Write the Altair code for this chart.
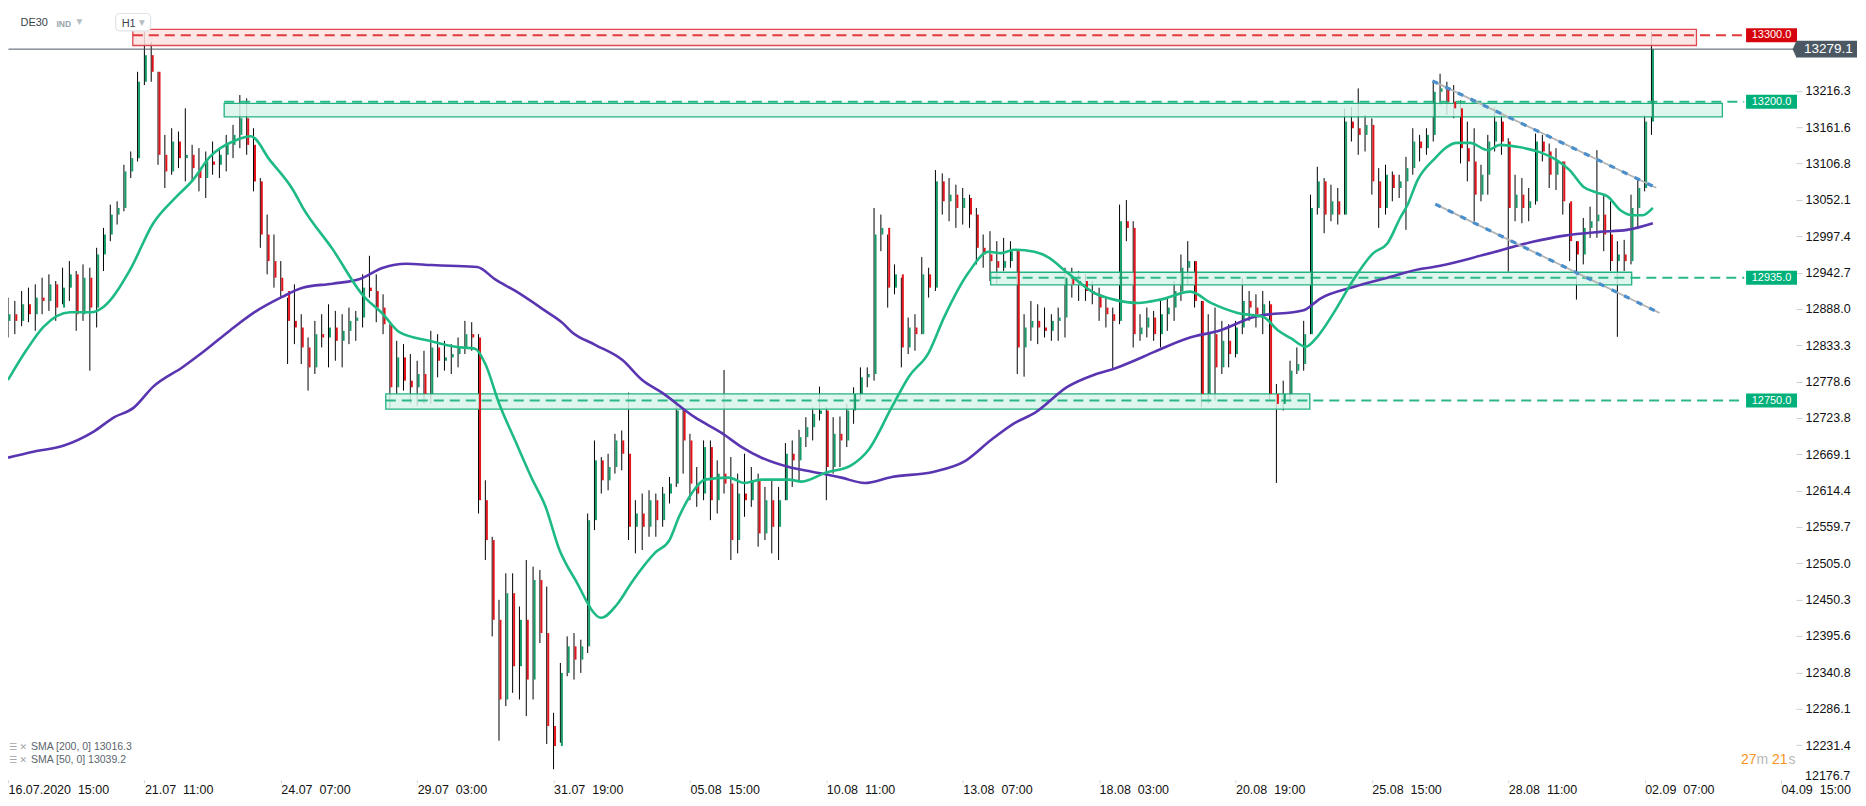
import json
import altair as alt
import pandas as pd

# ---------------- data ----------------
highs = [12905, 12900, 12915, 12920, 12925, 12935, 12940, 12930, 12950, 12960,
         12945, 12955, 12950, 12980, 13010, 13045, 13050, 13105, 13125, 13245,
         13305, 13290, 13245, 13150, 13160, 13155, 13190, 13135, 13130, 13125,
         13140, 13130, 13150, 13165, 13210, 13205, 13160, 13085, 13030, 13000,
         12960, 12905, 12925, 12880, 12845, 12870, 12880, 12895, 12885, 12880,
         12890, 12885, 12940, 12968, 12940, 12910, 12865, 12840, 12835, 12820,
         12810, 12825, 12855, 12850, 12840, 12835, 12845, 12870, 12868, 12850,
         12630, 12545, 12450, 12490, 12490, 12440, 12510, 12500, 12495, 12470,
         12280, 12355, 12395, 12400, 12390, 12580, 12690, 12665, 12670, 12700,
         12705, 12762, 12600, 12610, 12615, 12610, 12620, 12635, 12750, 12740,
         12700, 12650, 12690, 12690, 12660, 12796, 12665, 12640, 12670, 12650,
         12640, 12620, 12630, 12620, 12686, 12690, 12706, 12725, 12740, 12771,
         12740, 12725, 12726, 12745, 12770, 12800, 12800, 13040, 13030, 13000,
         12955, 12935, 12875, 12880, 12966, 12950, 13097, 13092, 13085, 13075,
         13070, 13060, 13040, 13000, 13005, 12990, 12995, 12990, 12978, 12880,
         12900, 12895, 12890, 12880, 12890, 12950, 12950, 12945, 12940, 12930,
         12920, 12905, 12890, 13045, 13052, 13020, 12880, 12890, 12885, 12900,
         12905, 12930, 12970, 12990, 12960, 12900, 12880, 12890, 12870, 12865,
         12870, 12935, 12915, 12910, 12915, 12900, 12775, 12780, 12810, 12830,
         12870, 13060, 13102, 13085, 13075, 13070, 13190, 13192, 13220, 13180,
         13175, 13100, 13105, 13095, 13090, 13117, 13160, 13150, 13160, 13230,
         13242, 13230, 13225, 13202, 13170, 13160, 13105, 13150, 13192, 13180,
         13145, 13090, 13085, 13070, 13152, 13150, 13137, 13130, 13110, 13047,
         12990, 13025, 13042, 13127, 13060, 13050, 12990, 12992, 13060, 13082,
         13180, 13305]
lows = [12845, 12850, 12862, 12868, 12855, 12880, 12885, 12870, 12895, 12900,
        12855, 12870, 12795, 12860, 12945, 12990, 13015, 13035, 13085, 13110,
        13225, 13230, 13105, 13070, 13090, 13100, 13080, 13080, 13065, 13055,
        13090, 13085, 13095, 13115, 13130, 13120, 13065, 12980, 12940, 12920,
        12905, 12805, 12835, 12805, 12765, 12790, 12830, 12800, 12810, 12800,
        12835, 12840, 12860, 12905, 12868, 12850, 12738, 12760, 12765, 12745,
        12742, 12745, 12745, 12785, 12795, 12790, 12800, 12820, 12825, 12580,
        12510, 12395, 12238, 12290, 12310, 12300, 12275, 12300, 12385, 12233,
        12195, 12235, 12335, 12330, 12340, 12370, 12555, 12610, 12615, 12640,
        12645, 12540, 12520, 12525, 12545, 12545, 12560, 12595, 12620, 12640,
        12600, 12590, 12600, 12570, 12580, 12610, 12510, 12520, 12575, 12590,
        12530, 12540, 12520, 12510, 12600, 12620, 12630, 12680, 12690, 12720,
        12600, 12640, 12650, 12680, 12715, 12750, 12770, 12780, 12975, 12890,
        12910, 12800, 12820, 12825, 12850, 12905, 12915, 13030, 13020, 13010,
        13015, 13010, 12955, 12950, 12930, 12925, 12945, 12950, 12790, 12786,
        12840, 12835, 12845, 12840, 12840, 12845, 12905, 12900, 12900, 12895,
        12870, 12860, 12796, 12865, 12990, 12830, 12840, 12845, 12840, 12830,
        12855, 12870, 12900, 12925, 12890, 12740, 12745, 12750, 12790, 12800,
        12815, 12850, 12870, 12860, 12850, 12750, 12626, 12735, 12750, 12790,
        12795, 12850, 13030, 13002, 13020, 13015, 13030, 13140, 13120, 13125,
        13060, 13010, 13030, 13050, 13055, 13007, 13090, 13110, 13120, 13140,
        13195, 13180, 13175, 13107, 13080, 13020, 13050, 13060, 13125, 13120,
        12944, 13020, 13017, 13020, 13045, 13110, 13070, 13067, 13030, 12960,
        12902, 12955, 12995, 12995, 12975, 12945, 12846, 12945, 12955, 13010,
        13065, 13150]
closes = [12880, 12870, 12895, 12880, 12905, 12900, 12925, 12890, 12920, 12940,
          12880, 12935, 12890, 12970, 13000, 13030, 13040, 13095, 13115, 13230,
          13270, 13245, 13120, 13095, 13140, 13115, 13120, 13100, 13085, 13110,
          13105, 13120, 13135, 13150, 13175, 13135, 13080, 13000, 12960, 12935,
          12915, 12870, 12860, 12830, 12800, 12850, 12845, 12860, 12840, 12855,
          12870, 12875, 12920, 12915, 12890, 12865, 12770, 12815, 12780, 12770,
          12790, 12760, 12830, 12810, 12815, 12820, 12830, 12850, 12845, 12600,
          12540, 12420, 12300, 12460, 12350, 12420, 12330, 12480, 12400, 12260,
          12230, 12340, 12380, 12360, 12380, 12570, 12660, 12630, 12650, 12690,
          12670, 12560, 12580, 12560, 12600, 12570, 12610, 12625, 12735, 12690,
          12625, 12610, 12680, 12600, 12640, 12625, 12540, 12610, 12600, 12630,
          12550, 12600, 12560, 12600, 12670, 12660, 12695, 12710, 12730, 12735,
          12650, 12700, 12690, 12735, 12760, 12785, 12790, 13000, 13010, 12920,
          12940, 12830, 12860, 12850, 12940, 12920, 13080, 13050, 13060, 13040,
          13055, 13030, 12980, 12970, 12960, 12950, 12960, 12975, 12830, 12860,
          12870, 12860, 12855, 12870, 12875, 12935, 12925, 12930, 12915, 12910,
          12890, 12880, 12870, 13020, 13010, 12850, 12860, 12875, 12850, 12880,
          12890, 12915, 12950, 12960, 12900, 12760, 12850, 12800, 12840, 12820,
          12860, 12900, 12890, 12880, 12895, 12760, 12745, 12760, 12795, 12805,
          12850, 13040, 13080, 13030, 13050, 13030, 13170, 13160, 13150, 13165,
          13080, 13040, 13090, 13070, 13080, 13100, 13140, 13130, 13150, 13215,
          13220, 13200, 13190, 13130, 13110, 13060, 13090, 13140, 13170, 13140,
          13040, 13060, 13040, 13050, 13140, 13125, 13090, 13110, 13050, 12990,
          12970, 13010, 13020, 13030, 13000, 12960, 12970, 12960, 13040, 13070,
          13170, 13279.1]
first_open = 12870

sma50_idx = [0, 2.7, 5.2, 9.1, 12.2, 14, 17.9, 21.3, 24.7, 27.1, 29.6, 33.4, 35.6, 38.4, 41.8,
             43.2, 47.6, 52, 55, 57.4, 61.8, 65.6, 68.5, 70, 72, 74.4, 76.9, 78.8, 80.8, 83.2,
             87, 89.3, 91.5, 94.9, 97, 98.4, 100.3, 102.2, 105.7, 108, 110.5, 114.5, 116.4,
             119.8, 123.7, 126.2, 129.6, 132.1, 135, 137.3, 140.8, 143.8, 145.6, 147.5, 150.5,
             152.5, 155.4, 159.3, 162.2, 165.7, 169, 173.4, 176.4, 180.3, 184.1, 186.2, 188.1,
             190.3, 192, 194.4, 197.3, 200.2, 202.3, 204.2, 205.2, 206.7, 209, 212.5, 214.4,
             217, 218.8, 221.3, 224.6, 227.1, 229, 231, 233, 234.6, 236.4, 238.3, 239.7, 241.2]
sma50_val = [12781, 12826, 12861, 12883, 12883, 12891, 12947, 13017, 13057, 13082, 13117, 13142,
             13148, 13112, 13067, 13041, 12978, 12909, 12880, 12853, 12840, 12831, 12828, 12805,
             12746, 12689, 12631, 12591, 12527, 12480, 12423, 12443, 12477, 12521, 12540, 12575,
             12611, 12631, 12634, 12626, 12631, 12631, 12628, 12641, 12653, 12676, 12740, 12786,
             12822, 12876, 12942, 12974, 12972, 12977, 12974, 12966, 12942, 12912, 12902, 12897,
             12902, 12914, 12897, 12882, 12876, 12856, 12844, 12831, 12846, 12882, 12932, 12972,
             12987, 13026, 13044, 13082, 13112, 13138, 13138, 13127, 13135, 13132, 13124, 13112,
             13097, 13072, 13063, 13057, 13037, 13029, 13029, 13040]

sma200_idx = [0, 3.7, 8.1, 12.5, 15.6, 18.4, 21.3, 25.7, 28.6, 32.6, 36, 40.2, 43.2, 47.6, 51.6,
              55, 58.4, 62.1, 64.7, 68.8, 71.5, 74.4, 78.8, 81.3, 82.7, 86.1, 90.1, 93, 95.9,
              100.7, 104.7, 107.6, 110.5, 114.5, 117.9, 122.2, 125.6, 129.6, 135.8, 140.2, 144.2,
              147.6, 150.5, 155.4, 159.3, 162.2, 164.7, 168, 173, 177.8, 182.7, 190, 192.5, 197.3,
              202.3, 207.1, 209, 216.3, 223.6, 228, 233.4, 237.4, 241.2]
sma200_val = [12664, 12673, 12682, 12703, 12725, 12739, 12771, 12801, 12823, 12856, 12882, 12906,
              12920, 12926, 12933, 12950, 12956, 12954, 12953, 12951, 12932, 12915, 12885, 12867,
              12853, 12834, 12811, 12781, 12762, 12725, 12701, 12680, 12664, 12650, 12643, 12634,
              12626, 12635, 12643, 12658, 12691, 12716, 12731, 12771, 12789, 12798, 12808, 12823,
              12844, 12856, 12876, 12886, 12904, 12921, 12935, 12948, 12951, 12969, 12989, 12998,
              13004, 13007, 13017]

zone_start = [18.3, 31.7, 144.1, 55.4]
zone_end = [247.6, 251.4, 238.1, 190.9]
zone_top = [13308.7, 13197.3, 12943.2, 12760.0]
zone_bottom = [13284.6, 13177.2, 12924.1, 12737.0]
zone_kind = ["resistance", "support", "support", "support"]

level_price = [13300.0, 13200.0, 12935.0, 12750.0]
level_start = [18.3, 31.7, 144.1, 55.4]
level_end = 254.6
level_kind = ["resistance", "support", "support", "support"]

trend_x1 = [208.9, 209.3]
trend_y1 = [13231.3, 13045.8]
trend_x2 = [241.7, 242.2]
trend_y2 = [13070.4, 12881.8]

current_price = 13279.1
sma200_last = "13016.3"
sma50_last = "13039.2"

date_label_idx = list(range(0, 261, 20))
date_labels = ["16.07.2020\u00a0 15:00", "21.07\u00a0 11:00", "24.07\u00a0 07:00", "29.07\u00a0 03:00",
               "31.07\u00a0 19:00", "05.08\u00a0 15:00", "10.08\u00a0 11:00", "13.08\u00a0 07:00",
               "18.08\u00a0 03:00", "20.08\u00a0 19:00", "25.08\u00a0 15:00", "28.08\u00a0 11:00",
               "02.09\u00a0 07:00", "04.09\u00a0 15:00"]
price_ticks = [13216.3, 13161.6, 13106.8, 13052.1, 12997.4, 12942.7, 12888.0, 12833.3, 12778.6,
               12723.8, 12669.1, 12614.4, 12559.7, 12505.0, 12450.3, 12395.6, 12340.8, 12286.1,
               12231.4]
bottom_tick_label = "12176.7"

# ---------------- styling ----------------
W, H = 1789, 772
FONT = "Liberation Sans"
UP, DOWN = "#169c68", "#e3131b"
RED_FILL, RED_LINE, RED_TAG = "#fde2e2", "#e04a4e", "#d6040c"
GRN_FILL, GRN_LINE, GRN_TAG = "#d8f4ea", "#22b27f", "#00b07a"

xs = alt.Scale(domain=[0, 262.2], nice=False, zero=False)
ys = alt.Scale(domain=[12179.1, 13340.7], nice=False, zero=False)

opens = [first_open] + closes[:-1]
candles = pd.DataFrame({"idx": list(range(len(closes))), "open": opens, "high": highs,
                        "low": lows, "close": closes})
candles["col"] = [UP if c >= o else DOWN for o, c in zip(opens, closes)]

x_axis = alt.Axis(values=date_label_idx,
                  labelExpr=json.dumps(date_labels) + "[round(datum.value / 20)]",
                  labelAlign="left", labelBaseline="top", labelFont=FONT, labelFontSize=12.5,
                  labelColor="#111111", labelPadding=1, tickSize=3, tickColor="#cfd4d7",
                  domain=False, grid=False, labelOverlap=False, labelFlush=False)
y_axis = alt.Axis(orient="right", values=price_ticks,
                  labelFont=FONT, labelFontSize=12.5, labelColor="#111111", labelPadding=3,
                  tickSize=6, tickColor="#c9d0d4", domain=False, grid=False, labelOverlap=False,
                  labelFlush=False, format=".1f")

zones = pd.DataFrame({"x1": zone_start, "x2": zone_end, "top": zone_top, "bot": zone_bottom,
                      "fill": [RED_FILL if k == "resistance" else GRN_FILL for k in zone_kind],
                      "line": [RED_LINE if k == "resistance" else GRN_LINE for k in zone_kind]})
zone_layer = alt.Chart(zones).mark_rect(strokeWidth=1.3, fillOpacity=0.85).encode(
    x=alt.X("x1:Q", scale=xs, axis=None), x2="x2:Q",
    y=alt.Y("top:Q", scale=ys, axis=None), y2="bot:Q",
    fill=alt.Fill("fill:N", scale=None), stroke=alt.Stroke("line:N", scale=None))

levels = pd.DataFrame({"price": level_price, "x1": level_start, "x2": [level_end] * len(level_price),
                       "col": ["#e23a3a" if k == "resistance" else "#2cb886" for k in level_kind],
                       "tag": [RED_TAG if k == "resistance" else GRN_TAG for k in level_kind],
                       "txt": [f"{p:.1f}" for p in level_price]})
levels["top"] = levels["price"] + 10.5
levels["bot"] = levels["price"] - 10.5
level_lines = alt.Chart(levels).mark_rule(strokeWidth=2, strokeDash=[10, 6]).encode(
    x=alt.X("x1:Q", scale=xs, axis=None), x2="x2:Q",
    y=alt.Y("price:Q", scale=ys, axis=None), color=alt.Color("col:N", scale=None))
level_tags = alt.Chart(levels).mark_rect().encode(
    x=alt.value(1739), x2=alt.value(1790),
    y=alt.Y("top:Q", scale=ys, axis=None), y2="bot:Q", fill=alt.Fill("tag:N", scale=None))
level_text = alt.Chart(levels).mark_text(font=FONT, fontSize=11, color="white", align="center",
                                         baseline="middle").encode(
    x=alt.value(1764.5), y=alt.Y("price:Q", scale=ys, axis=None), text="txt:N")

wicks = alt.Chart(candles).mark_rule(color="#000000", strokeWidth=1).encode(
    x=alt.X("idx:Q", scale=xs, axis=x_axis, title=None),
    y=alt.Y("low:Q", scale=ys, axis=y_axis, title=None), y2="high:Q")
bodies = alt.Chart(candles).mark_rule(strokeWidth=2, xOffset=1.5).encode(
    x=alt.X("idx:Q", scale=xs, axis=None),
    y=alt.Y("open:Q", scale=ys, axis=None), y2="close:Q", color=alt.Color("col:N", scale=None))

sma200 = alt.Chart(pd.DataFrame({"i": sma200_idx, "v": sma200_val})).mark_line(
    color="#5a35b1", strokeWidth=2.6, interpolate="monotone").encode(
    x=alt.X("i:Q", scale=xs, axis=None), y=alt.Y("v:Q", scale=ys, axis=None))
sma50 = alt.Chart(pd.DataFrame({"i": sma50_idx, "v": sma50_val})).mark_line(
    color="#1dbb83", strokeWidth=2.6, interpolate="monotone").encode(
    x=alt.X("i:Q", scale=xs, axis=None), y=alt.Y("v:Q", scale=ys, axis=None))

trends = pd.DataFrame({"x1": trend_x1, "y1": trend_y1, "x2": trend_x2, "y2": trend_y2})
trend_base = alt.Chart(trends).mark_rule(color="#b3b3b3", strokeWidth=1.8).encode(
    x=alt.X("x1:Q", scale=xs, axis=None), y=alt.Y("y1:Q", scale=ys, axis=None), x2="x2:Q", y2="y2:Q")
trend_dash = alt.Chart(trends).mark_rule(color="#4a8fcb", strokeWidth=3.2, strokeDash=[6, 8]).encode(
    x=alt.X("x1:Q", scale=xs, axis=None), y=alt.Y("y1:Q", scale=ys, axis=None), x2="x2:Q", y2="y2:Q")

cur = pd.DataFrame({"p": [current_price], "txt": [f"{current_price:.1f}"]})
cur["top"] = cur["p"] + 12.5
cur["bot"] = cur["p"] - 12.5
cur_line = alt.Chart(cur).mark_rule(color="#4b5761", strokeWidth=1).encode(
    x=alt.value(0.5), x2=alt.value(1789), y=alt.Y("p:Q", scale=ys, axis=None))
cur_box = alt.Chart(cur).mark_rect(color="#4b5863").encode(
    x=alt.value(1789), x2=alt.value(1850), y=alt.Y("top:Q", scale=ys, axis=None), y2="bot:Q")
cur_arrow = alt.Chart(cur).mark_point(shape="M0,-1L-0.45,0L0,1Z", filled=True, opacity=1,
                                      color="#4b5863", size=300).encode(
    x=alt.value(1789.5), y=alt.Y("p:Q", scale=ys, axis=None))
cur_text = alt.Chart(cur).mark_text(font=FONT, fontSize=13.5, color="white", align="left",
                                    baseline="middle").encode(
    x=alt.value(1797), y=alt.Y("p:Q", scale=ys, axis=None), text="txt:N")

# lowest price-scale label, lifted clear of the date axis as in the original
bottom_lbl = alt.Chart(pd.DataFrame({"t": [bottom_tick_label]})).mark_text(
    font=FONT, fontSize=12.5, color="#111111", align="left", baseline="middle").encode(
    x=alt.value(1798), y=alt.value(768.5), text="t:N")


def label(txt, x, y, size, color, font=FONT, weight="normal", align="left"):
    return alt.Chart(pd.DataFrame({"t": [txt]})).mark_text(
        font=font, fontSize=size, color=color, fontWeight=weight, align=align,
        baseline="middle").encode(x=alt.value(x), y=alt.value(y), text="t:N")


h1_box = alt.Chart(pd.DataFrame({"t": ["H1"]})).mark_rect(
    fill="white", stroke="#dfe4e7", strokeWidth=1.2, cornerRadius=4).encode(
    x=alt.value(107.7), x2=alt.value(142.7), y=alt.value(5.3), y2=alt.value(22.7))

texts = [
    label("DE30", 12.5, 15, 11, "#3a444c"),
    label("IND", 48.5, 15.5, 8.5, "#98a4ac", weight="bold"),
    label("▼", 68.5, 14, 7.5, "#b5bdc2", font="DejaVu Sans"),
    h1_box,
    label("H1", 113.7, 15.3, 11, "#3a444c"),
    label("▼", 131, 14.5, 7.5, "#b5bdc2", font="DejaVu Sans"),
    label("☰", 1, 739, 9, "#a5a5a5", font="DejaVu Sans"),
    label("✕", 11.5, 739, 9, "#a5a5a5", font="DejaVu Sans"),
    label("SMA [200, 0] " + sma200_last, 23, 739, 10.5, "#5a656d"),
    label("☰", 1, 752, 9, "#a5a5a5", font="DejaVu Sans"),
    label("✕", 11.5, 752, 9, "#a5a5a5", font="DejaVu Sans"),
    label("SMA [50, 0] " + sma50_last, 23, 752, 10.5, "#5a656d"),
    label("27", 1734, 752, 14, "#f7931e"),
    label("m", 1749.5, 752, 14, "#b8b8b8"),
    label("21", 1765, 752, 14, "#f7931e"),
    label("s", 1781.5, 752, 14, "#b8b8b8"),
    bottom_lbl,
]

chart = alt.layer(
    wicks, zone_layer, level_lines, bodies, sma200, sma50, trend_base, trend_dash,
    cur_line, level_tags, level_text, cur_box, cur_arrow, cur_text, *texts
).resolve_axis(x="independent", y="independent").properties(
    width=W, height=H,
    autosize=alt.AutoSizeParams(type="none"),
    padding={"left": 0, "top": 0, "right": 62, "bottom": 18},
).configure_view(strokeWidth=0)

chart.save("out.html", embed_options={"renderer": "svg", "actions": False})
